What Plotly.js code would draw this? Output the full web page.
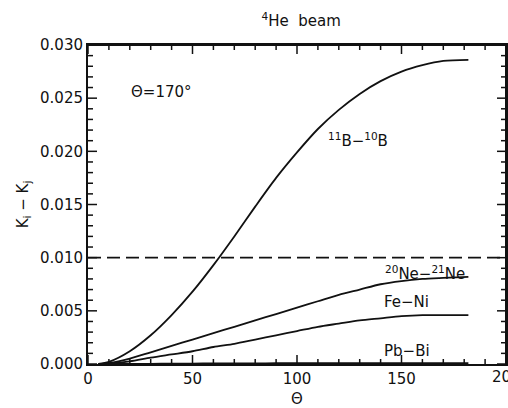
<!DOCTYPE html>
<html>
<head>
<meta charset="utf-8">
<script src="https://cdn.plot.ly/plotly-3.0.1.min.js"></script>
<style>html,body{margin:0;padding:0;background:#fff;}#chart{width:508px;height:408px;}</style>
</head>
<body>
<div id="chart"></div>
<script>
// Θ values (degrees)
const theta = [5, 10, 20, 30, 40, 50, 60, 70, 80, 90, 100, 110, 120, 130, 140, 150, 160, 170, 182];
// K_i - K_j for each pair
const kB = [0, 0.0002, 0.0012, 0.0027, 0.0046, 0.0068, 0.0093, 0.0120, 0.0148, 0.0175, 0.0199, 0.0221, 0.0239, 0.0254, 0.0266, 0.0275, 0.0281, 0.0285, 0.0286];
const kNe = [0, 0.00008, 0.0005, 0.0011, 0.0017, 0.0023, 0.0029, 0.0035, 0.0041, 0.0047, 0.0053, 0.0059, 0.0065, 0.0070, 0.0075, 0.0078, 0.0080, 0.0081, 0.0082];
const kFeNi = [0, 0.00004, 0.00025, 0.0006, 0.0009, 0.0012, 0.0016, 0.0019, 0.0023, 0.0027, 0.0031, 0.0035, 0.0038, 0.0041, 0.0043, 0.0045, 0.0046, 0.0046, 0.0046];
const kPbBi = [0, 0, 0.00001, 0.00002, 0.00003, 0.00004, 0.00005, 0.00006, 0.00006, 0.00007, 0.00007, 0.00008, 0.00008, 0.00008, 0.00008, 0.00008, 0.00008, 0.00008, 0.00008];
// reference level
const refX = [0, 200];
const refY = [0.010, 0.010];
// axes and ticks
const xRange = [0, 200];
const yRange = [0, 0.030];
const xMajor = [0, 50, 100, 150, 200];
const xTickText = ['0', '50', '100', '150'];
const xMinor = [10, 20, 30, 40, 60, 70, 80, 90, 110, 120, 130, 140, 160, 170, 180, 190];
const yMajor = [0, 0.005, 0.010, 0.015, 0.020, 0.025, 0.030];
const yMinor = [0.001, 0.002, 0.003, 0.004, 0.006, 0.007, 0.008, 0.009, 0.011, 0.012, 0.013, 0.014,
                0.016, 0.017, 0.018, 0.019, 0.021, 0.022, 0.023, 0.024, 0.026, 0.027, 0.028, 0.029];

const W = 508, H = 408, M = {l: 88, r: 2, t: 45, b: 44};
const pxX = (xRange[1] - xRange[0]) / (W - M.l - M.r);   // data units per pixel
const pxY = (yRange[1] - yRange[0]) / (H - M.t - M.b);

const curve = {color: '#111', width: 1.8, shape: 'spline', smoothing: 0.8};
const traces = [
  {x: theta, y: kB, mode: 'lines', line: curve},
  {x: theta, y: kNe, mode: 'lines', line: curve},
  {x: theta, y: kFeNi, mode: 'lines', line: curve},
  {x: theta, y: kPbBi, mode: 'lines', line: curve},
  {x: refX, y: refY, mode: 'lines', line: {color: '#111', width: 1.8, dash: '13px,6px'}}
];

// each tick mark (inside, all four sides) is its own two-point segment
const tickLine = {color: '#111', width: 1.5};
function seg(x0, y0, x1, y1, line) {
  traces.push({x: [x0, x1], y: [y0, y1], mode: 'lines', line: line, cliponaxis: false});
}
function xTick(v, len) {
  seg(v, yRange[0], v, yRange[0] + len * pxY, tickLine);
  seg(v, yRange[1], v, yRange[1] - len * pxY, tickLine);
}
function yTick(v, len) {
  seg(xRange[0], v, xRange[0] + len * pxX, v, tickLine);
  seg(xRange[1], v, xRange[1] - len * pxX, v, tickLine);
}
xMajor.forEach(v => xTick(v, 9));
xMinor.forEach(v => xTick(v, 5));
yMajor.forEach(v => yTick(v, 9));
yMinor.forEach(v => yTick(v, 5));
// top and right edges of the frame
const frameLine = {color: '#111', width: 2};
seg(xRange[0], yRange[1], xRange[1], yRange[1], frameLine);
seg(xRange[1], yRange[0], xRange[1], yRange[1], frameLine);

const font = {family: 'DejaVu Sans, Arial, sans-serif', size: 15, color: '#111'};
const layout = {
  width: W, height: H,
  margin: M,
  showlegend: false,
  hovermode: false,
  font: font,
  title: {text: '<sup>4</sup>He  beam', automargin: false, xref: 'paper', x: 0.51, xanchor: 'center',
          yref: 'container', y: 0.948, yanchor: 'middle', font: {family: font.family, size: 15, color: '#111'}},
  xaxis: {
    range: xRange, tickmode: 'array', tickvals: xMajor.slice(0, 4), ticktext: xTickText, automargin: false,
    showgrid: false, zeroline: false, showline: true, linecolor: '#111', linewidth: 2, mirror: true,
    ticks: '', tickfont: font,
    title: {text: 'Θ', font: font, standoff: 8}
  },
  yaxis: {
    range: yRange, tickmode: 'array', tickvals: yMajor, tickformat: '.3f', automargin: false,
    showgrid: false, zeroline: false, showline: true, linecolor: '#111', linewidth: 2, mirror: true,
    ticks: '', tickfont: font,
    title: {text: 'K<sub>i</sub> − K<sub>j</sub>', font: font, standoff: 8}
  },
  annotations: [
    {x: 200, y: 0, xref: 'x', yref: 'paper', yanchor: 'top', xanchor: 'center', yshift: -2, text: '200', showarrow: false, font: font},
    {x: 35, y: 0.0256, text: 'Θ=170°', showarrow: false, font: font, xanchor: 'center'},
    {x: 129.4, y: 0.0211, text: '<sup>11</sup>B−<sup>10</sup>B', showarrow: false, font: font, xanchor: 'center'},
    {x: 161.3, y: 0.0086, text: '<sup>20</sup>Ne−<sup>21</sup>Ne', showarrow: false, font: font, xanchor: 'center'},
    {x: 152.3, y: 0.00585, text: 'Fe−Ni', showarrow: false, font: font, xanchor: 'center'},
    {x: 152.7, y: 0.00123, text: 'Pb−Bi', showarrow: false, font: font, xanchor: 'center'}
  ]
};
Plotly.newPlot('chart', traces, layout, {displayModeBar: false});
</script>
</body>
</html>
